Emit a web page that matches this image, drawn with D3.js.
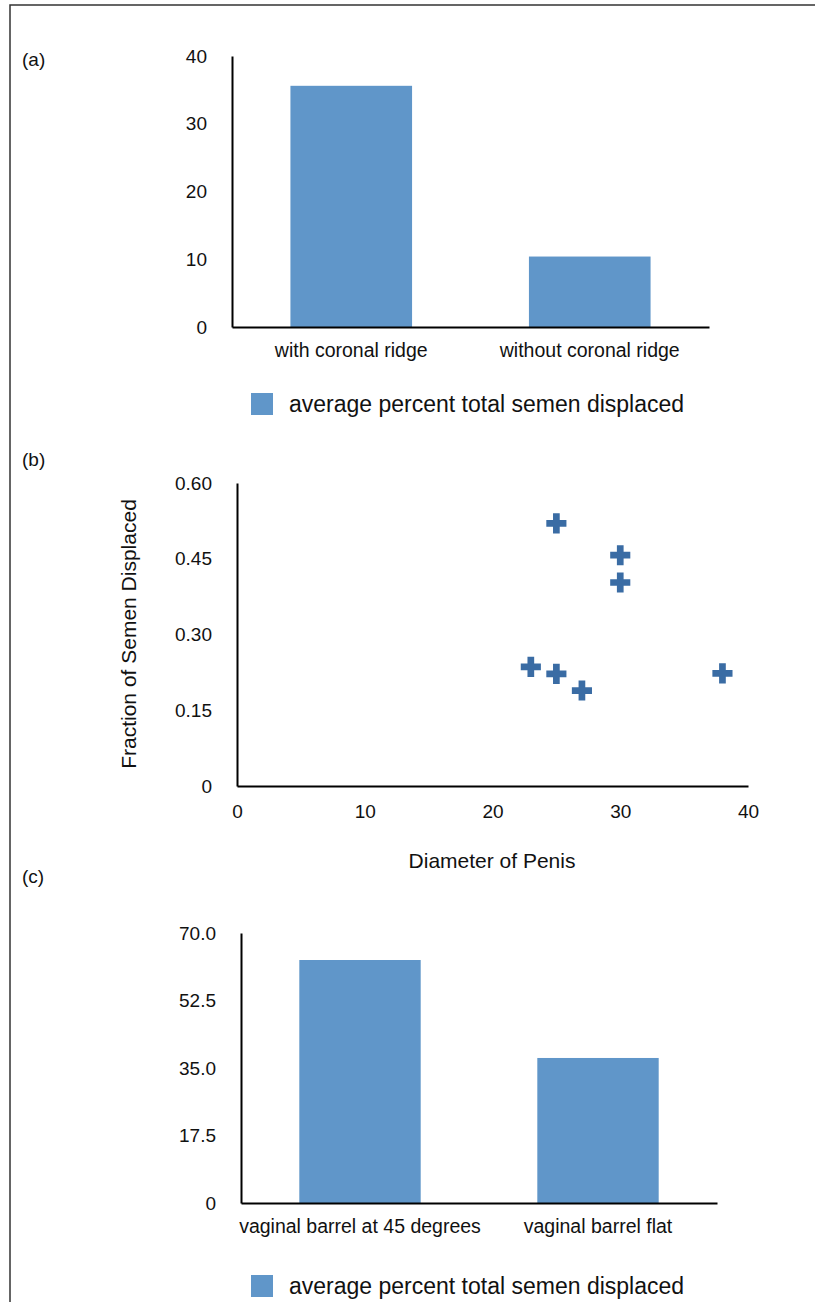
<!DOCTYPE html>
<html>
<head>
<meta charset="utf-8">
<script src="https://cdn.jsdelivr.net/npm/d3@7"></script>
<style>
  body { margin: 0; background: #fff; }
  svg { display: block; font-family: "Liberation Sans", Arial, Helvetica, sans-serif; }
  .axis path { stroke: #000; stroke-width: 2; }
  .axis text { fill: #111; }
</style>
</head>
<body>
<div id="chart"></div>
<script>
// panel (a)
var ridgeCategories = ["with coronal ridge", "without coronal ridge"];
var ridgeValues = [35.6, 10.4];
var ridgeTicks = [0, 10, 20, 30, 40];
var ridgeTickLabels = ["0", "10", "20", "30", "40"];

// panel (b)
var diameterValues = [25, 30, 30, 23, 25, 27, 38];
var fractionValues = [0.52, 0.457, 0.403, 0.236, 0.222, 0.189, 0.223];
var diameterTicks = [0, 10, 20, 30, 40];
var fractionTicks = [0, 0.15, 0.30, 0.45, 0.60];
var fractionTickLabels = ["0", "0.15", "0.30", "0.45", "0.60"];

// panel (c)
var barrelCategories = ["vaginal barrel at 45 degrees", "vaginal barrel flat"];
var barrelValues = [63.0, 37.6];
var barrelTicks = [0, 17.5, 35, 52.5, 70];
var barrelTickLabels = ["0", "17.5", "35.0", "52.5", "70.0"];

var legendText = "average percent total semen displaced";
var barColor = "#6096c9";
var markerColor = "#3a6ca4";

var svg = d3.select("#chart").append("svg")
    .attr("width", 815)
    .attr("height", 1302);

// outer frame, runs off the right and bottom edge
svg.append("rect")
    .attr("x", 10).attr("y", 5)
    .attr("width", 900).attr("height", 1400)
    .attr("fill", "none")
    .attr("stroke", "#333")
    .attr("stroke-width", 1.5);

function panelLabel(txt, y) {
    svg.append("text")
        .attr("x", 22).attr("y", y)
        .style("font-size", "19px")
        .attr("fill", "#111")
        .text(txt);
}

function barPanel(cats, vals, ticks, tickLabels, box) {
    var x = d3.scaleBand().domain(cats)
        .range([box.left, box.right])
        .paddingInner(0.49).paddingOuter(0.245);
    var y = d3.scaleLinear().domain([0, ticks[ticks.length - 1]])
        .range([box.bottom, box.top]);

    svg.append("g").selectAll("rect")
        .data(vals)
        .enter().append("rect")
        .attr("x", function(d, i) { return x(cats[i]); })
        .attr("width", x.bandwidth())
        .attr("y", function(d) { return y(d); })
        .attr("height", function(d) { return y(0) - y(d); })
        .attr("fill", barColor);

    var yAxis = svg.append("g")
        .attr("class", "axis")
        .attr("transform", "translate(" + box.left + ",0)")
        .call(d3.axisLeft(y).tickValues(ticks)
            .tickFormat(function(d, i) { return tickLabels[i]; })
            .tickSize(0).tickPadding(25));
    yAxis.selectAll("text").style("font-size", "19px");

    var xAxis = svg.append("g")
        .attr("class", "axis")
        .attr("transform", "translate(0," + box.bottom + ")")
        .call(d3.axisBottom(x).tickSize(0).tickPadding(16));
    xAxis.selectAll("text").style("font-size", "19.5px");

    // legend
    svg.append("rect")
        .attr("x", 251).attr("y", box.legendY)
        .attr("width", 22).attr("height", 22)
        .attr("fill", barColor);
    svg.append("text")
        .attr("x", 289).attr("y", box.legendY + 19)
        .style("font-size", "23px")
        .attr("fill", "#111")
        .text(legendText);
}

// (a)
panelLabel("(a)", 66);
barPanel(ridgeCategories, ridgeValues, ridgeTicks, ridgeTickLabels,
    {left: 232, right: 709, top: 56, bottom: 327, legendY: 393});

// (b) scatter
panelLabel("(b)", 466);
var sx = d3.scaleLinear().domain([0, 40]).range([237, 748]);
var sy = d3.scaleLinear().domain([0, 0.60]).range([786, 483]);

var syAxis = svg.append("g")
    .attr("class", "axis")
    .attr("transform", "translate(237,0)")
    .call(d3.axisLeft(sy).tickValues(fractionTicks)
        .tickFormat(function(d, i) { return fractionTickLabels[i]; })
        .tickSize(0).tickPadding(25));
syAxis.selectAll("text").style("font-size", "19px");

var sxAxis = svg.append("g")
    .attr("class", "axis")
    .attr("transform", "translate(0,786)")
    .call(d3.axisBottom(sx).tickValues(diameterTicks).tickFormat(d3.format("d"))
        .tickSize(0).tickPadding(19));
sxAxis.selectAll("text").style("font-size", "19px");

svg.append("g").selectAll("path")
    .data(diameterValues)
    .enter().append("path")
    .attr("d", d3.symbol().type(d3.symbolCross).size(225))
    .attr("transform", function(d, i) {
        return "translate(" + sx(d) + "," + sy(fractionValues[i]) + ")";
    })
    .attr("fill", markerColor);

svg.append("text")
    .attr("transform", "translate(136,634) rotate(-90)")
    .style("text-anchor", "middle")
    .style("font-size", "21px")
    .attr("fill", "#111")
    .text("Fraction of Semen Displaced");

svg.append("text")
    .attr("x", 492).attr("y", 868)
    .style("text-anchor", "middle")
    .style("font-size", "21px")
    .attr("fill", "#111")
    .text("Diameter of Penis");

// (c)
panelLabel("(c)", 883);
barPanel(barrelCategories, barrelValues, barrelTicks, barrelTickLabels,
    {left: 241, right: 717, top: 933, bottom: 1203, legendY: 1275});
</script>
</body>
</html>
